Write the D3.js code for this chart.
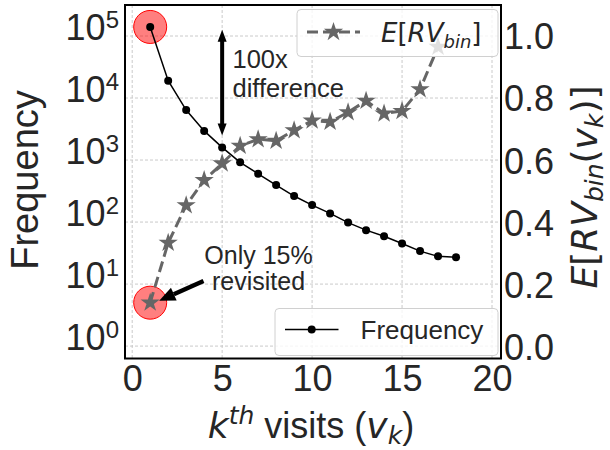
<!DOCTYPE html>
<html>
<head>
<meta charset="utf-8">
<script src="https://cdn.jsdelivr.net/npm/d3@7"></script>
<style>
html,body{margin:0;padding:0;background:#fff;}
svg{display:block;font-family:"Liberation Sans",Arial,sans-serif;}
.m{font-family:"DejaVu Sans",sans-serif;font-style:oblique;}
.mu{font-family:"DejaVu Sans",sans-serif;}
</style>
</head>
<body>
<svg id="chart" width="610" height="450"></svg>
<script>
// ---- data ----
const visits = [1,2,3,4,5,6,7,8,9,10,11,12,13,14,15,16,17,18];
const frequency = [140000,19000,6400,2950,1600,920,600,395,263,188,138,98,74,59,45,34,28,27];
const rvVisits = [1,2,3,4,5,6,7,8,9,10,11,12,13,14,15,16,17];
const rvBin = [0.14,0.333,0.454,0.535,0.589,0.646,0.667,0.662,0.696,0.727,0.723,0.754,0.791,0.750,0.758,0.828,0.965];
const xTicks = [0,5,10,15,20];
const leftTickExp = [0,1,2,3,4,5];
const rightTicks = [0.0,0.2,0.4,0.6,0.8,1.0];

const svg = d3.select("#chart");
const L=125,R=501,T=5,B=358.5;
const x = d3.scaleLinear().domain([-0.4,20.5]).range([L,R]);
const yL = d3.scaleLog().domain([Math.pow(10,-0.2),Math.pow(10,5.5)]).range([B,T]);
const yR = d3.scaleLinear().domain([-0.04,1.1]).range([B,T]);
const txt = "#262626";
const FF = "Liberation Sans, Arial, sans-serif";

// grid
const grid = svg.append("g").attr("stroke","#c4c4c4").attr("stroke-width",0.9).attr("stroke-dasharray","3,2");
xTicks.forEach(v=>grid.append("line").attr("x1",x(v)).attr("x2",x(v)).attr("y1",T).attr("y2",B));
leftTickExp.forEach(e=>grid.append("line").attr("x1",L).attr("x2",R).attr("y1",yL(Math.pow(10,e))).attr("y2",yL(Math.pow(10,e))));

// axes (labels only, via d3 axes)
const xAxis = svg.append("g").attr("transform",`translate(0,${B})`)
  .call(d3.axisBottom(x).tickValues(xTicks).tickSize(0).tickPadding(6).tickFormat(d3.format("d")));
xAxis.select(".domain").remove();
xAxis.selectAll("text").attr("font-size",36).attr("fill",txt).attr("font-family",FF).attr("dy","0.74em");

const yAxisL = svg.append("g").attr("transform",`translate(${L},0)`)
  .call(d3.axisLeft(yL).tickValues(leftTickExp.map(e=>Math.pow(10,e))).tickSize(0).tickPadding(6).tickFormat(()=>""));
yAxisL.select(".domain").remove();
yAxisL.selectAll(".tick text").each(function(d){
  const t=d3.select(this);
  t.text(null).attr("fill",txt).attr("font-family",FF).attr("dy","0.36em");
  t.append("tspan").attr("font-size",36).text("10");
  t.append("tspan").attr("font-size",24).attr("dy",-12).text(Math.round(Math.log10(d)));
});

const yAxisR = svg.append("g").attr("transform",`translate(${R},0)`)
  .call(d3.axisRight(yR).tickValues(rightTicks).tickSize(0).tickPadding(3).tickFormat(d3.format(".1f")));
yAxisR.select(".domain").remove();
yAxisR.selectAll("text").attr("font-size",36).attr("fill",txt).attr("font-family",FF).attr("dy","0.36em");

// frame
svg.append("rect").attr("x",L).attr("y",T).attr("width",R-L).attr("height",B-T)
  .attr("fill","none").attr("stroke","#000").attr("stroke-width",2);

// red highlight circles
svg.append("circle").attr("cx",x(1)).attr("cy",yL(frequency[0])).attr("r",16.5)
  .attr("fill","rgba(255,0,0,0.5)").attr("stroke","#ff0000").attr("stroke-width",1);
svg.append("circle").attr("cx",x(1)).attr("cy",yR(rvBin[0])).attr("r",16.5)
  .attr("fill","rgba(255,0,0,0.5)").attr("stroke","#ff0000").attr("stroke-width",1);

// RV line (gray dashed with stars)
const gray="#666666";
svg.append("path").datum(rvVisits.map((v,i)=>[v,rvBin[i]]))
  .attr("d",d3.line().x(d=>x(d[0])).y(d=>yR(d[1])))
  .attr("fill","none").attr("stroke",gray).attr("stroke-width",3).attr("stroke-dasharray","11,5");
const star = d3.symbol().type(d3.symbolStar).size(115);
svg.append("g").selectAll("path").data(rvVisits.map((v,i)=>[v,rvBin[i]])).join("path")
  .attr("transform",d=>`translate(${x(d[0])},${yR(d[1])})`).attr("d",star).attr("fill",gray);

// Frequency line
svg.append("path").datum(visits.map((v,i)=>[v,frequency[i]]))
  .attr("d",d3.line().x(d=>x(d[0])).y(d=>yL(d[1])))
  .attr("fill","none").attr("stroke","#000").attr("stroke-width",1.5);
svg.append("g").selectAll("circle").data(visits.map((v,i)=>[v,frequency[i]])).join("circle")
  .attr("cx",d=>x(d[0])).attr("cy",d=>yL(d[1])).attr("r",4).attr("fill","#000");

// annotations
// double arrow
const ax = x(5), ay1 = yL(Math.pow(10,5.1)), ay2 = yL(frequency[4]*1.55);
svg.append("line").attr("x1",ax).attr("x2",ax).attr("y1",ay1+10).attr("y2",ay2-10).attr("stroke","#000").attr("stroke-width",4);
svg.append("path").attr("d",`M${ax},${ay1} L${ax-4.5},${ay1+12} L${ax+4.5},${ay1+12} Z`).attr("fill","#000");
svg.append("path").attr("d",`M${ax},${ay2} L${ax-4.5},${ay2-12} L${ax+4.5},${ay2-12} Z`).attr("fill","#000");
svg.append("text").attr("x",232.5).attr("y",68).attr("font-size",25.5).attr("fill",txt).text("100x");
svg.append("text").attr("x",232.5).attr("y",97).attr("font-size",25.5).attr("fill",txt).text("difference");

// "Only 15%" arrow
const tipX = x(1)+9, tipY = yR(rvBin[0])-2;
const tailX = 203.5, tailY = 281;
const ang = Math.atan2(tipY-tailY, tipX-tailX);
const hl=16, hw=7;
const bx = tipX - hl*Math.cos(ang), by = tipY - hl*Math.sin(ang);
svg.append("line").attr("x1",tailX).attr("y1",tailY).attr("x2",bx).attr("y2",by).attr("stroke","#000").attr("stroke-width",4.5);
svg.append("path").attr("d",`M${tipX},${tipY} L${bx - hw*Math.sin(ang)},${by + hw*Math.cos(ang)} L${bx + hw*Math.sin(ang)},${by - hw*Math.cos(ang)} Z`).attr("fill","#000");
svg.append("text").attr("x",258.5).attr("y",263.5).attr("text-anchor","middle").attr("font-size",25).attr("fill",txt).text("Only 15%");
svg.append("text").attr("x",258.5).attr("y",290).attr("text-anchor","middle").attr("font-size",25).attr("fill",txt).text("revisited");

// legends
function legendBox(x0,y0,w,h){
  svg.append("rect").attr("x",x0).attr("y",y0).attr("width",w).attr("height",h).attr("rx",4)
    .attr("fill","rgba(255,255,255,0.8)").attr("stroke","#d0d0d0").attr("stroke-width",1);
}
legendBox(297,9.5,201,47);
svg.append("line").attr("x1",307).attr("x2",360).attr("y1",32).attr("y2",32).attr("stroke",gray).attr("stroke-width",3).attr("stroke-dasharray","11,5");
svg.append("path").attr("transform","translate(333.5,32)").attr("d",star).attr("fill",gray);
const lt = svg.append("text").attr("x",381).attr("y",42).attr("font-size",26).attr("fill",txt);
lt.append("tspan").attr("class","m").text("E");
lt.append("tspan").attr("class","mu").text("[");
lt.append("tspan").attr("class","m").text("RV");
lt.append("tspan").attr("class","m").attr("font-size",18).attr("dy",6).text("bin");
lt.append("tspan").attr("class","mu").attr("dy",-6).text("]");

legendBox(275,308.5,223,47);
svg.append("line").attr("x1",285).attr("x2",338.5).attr("y1",329.5).attr("y2",329.5).attr("stroke","#000").attr("stroke-width",1.5);
svg.append("circle").attr("cx",311.7).attr("cy",329.5).attr("r",4).attr("fill","#000");
svg.append("text").attr("x",360.5).attr("y",338.5).attr("font-size",26).attr("fill",txt).text("Frequency");

// axis titles
const xl = svg.append("text").attr("x",311).attr("y",438).attr("text-anchor","middle").attr("font-size",36).attr("fill",txt);
xl.append("tspan").attr("class","m").text("k");
xl.append("tspan").attr("class","m").attr("font-size",25).attr("dy",-14).text("th");
xl.append("tspan").attr("dy",14).text(" visits (");
xl.append("tspan").attr("class","m").text("v");
xl.append("tspan").attr("class","m").attr("font-size",25).attr("dy",6).text("k");
xl.append("tspan").attr("dy",-6).text(")");

svg.append("text").attr("transform","translate(38,180) rotate(-90)").attr("text-anchor","middle")
  .attr("font-size",38).attr("fill",txt).text("Frequency");

const yr = svg.append("text").attr("transform","translate(597,187) rotate(-90)").attr("text-anchor","middle").attr("font-size",36).attr("fill",txt);
yr.append("tspan").attr("class","m").text("E");
yr.append("tspan").attr("class","mu").text("[");
yr.append("tspan").attr("class","m").text("RV");
yr.append("tspan").attr("class","m").attr("font-size",25).attr("dy",6).text("bin");
yr.append("tspan").attr("class","mu").attr("dy",-6).text("(");
yr.append("tspan").attr("class","m").text("v");
yr.append("tspan").attr("class","m").attr("font-size",25).attr("dy",6).text("k");
yr.append("tspan").attr("class","mu").attr("dy",-6).text(")]");
</script>
</body>
</html>
